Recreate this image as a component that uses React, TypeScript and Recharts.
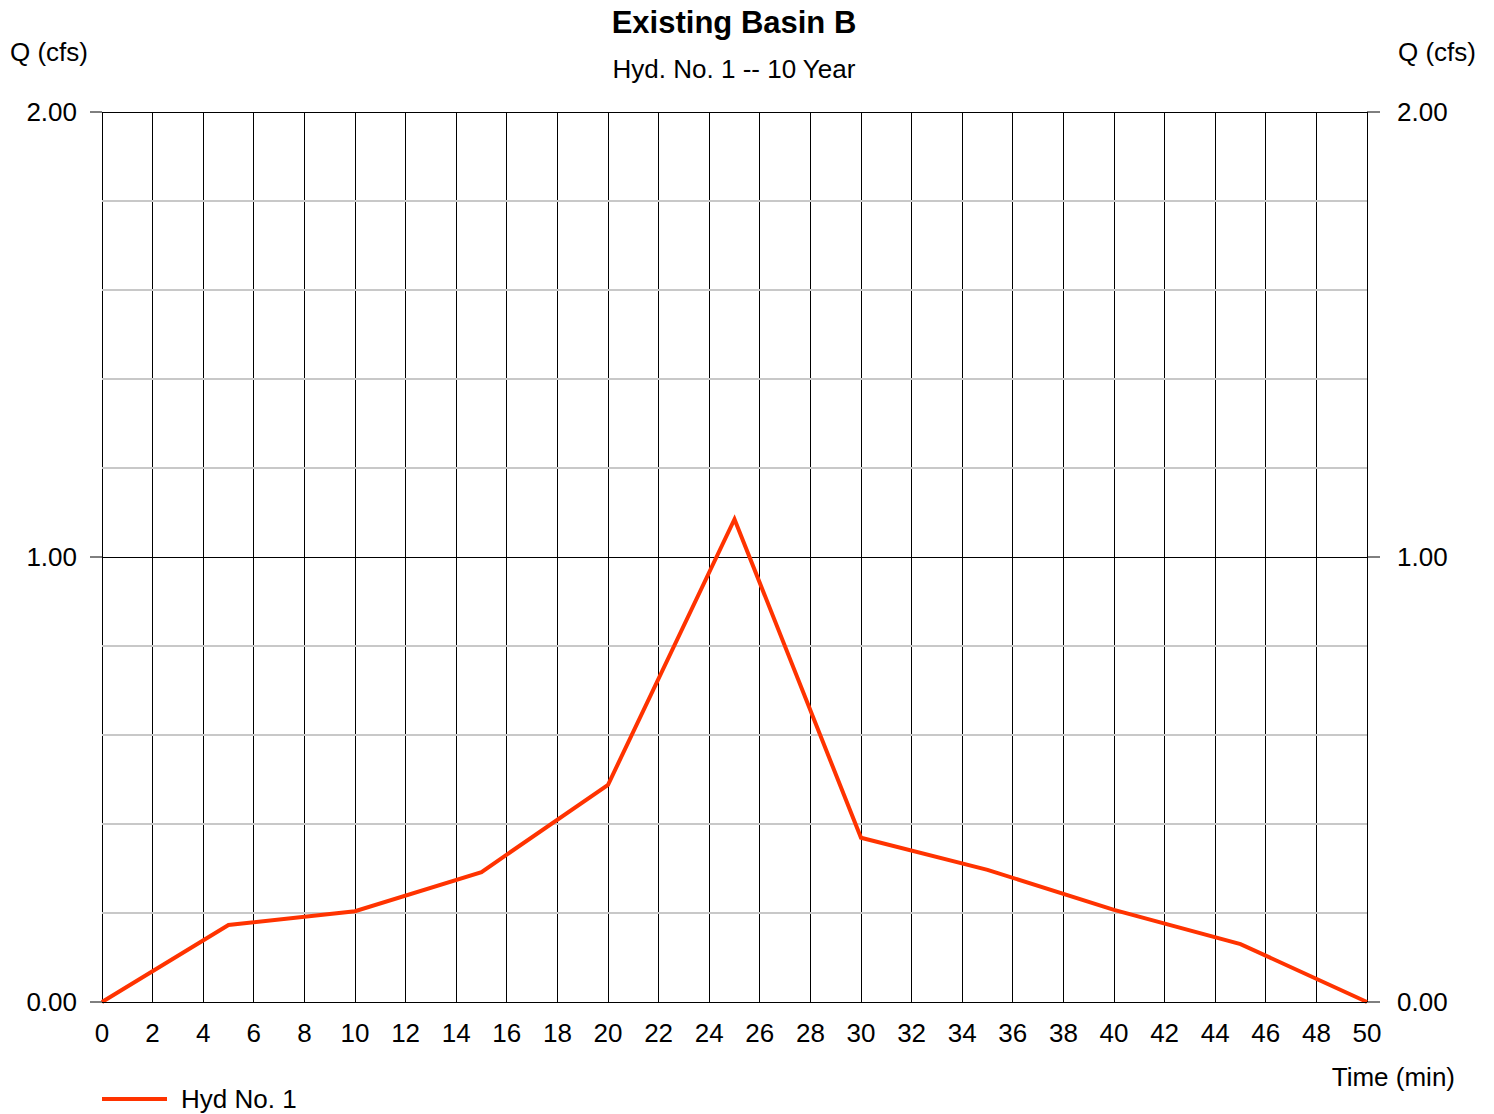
import { LineChart, Line, XAxis, YAxis, CartesianGrid, ReferenceLine } from 'recharts';

const times = [0, 5, 10, 15, 20, 25, 30, 35, 40, 45, 50];
const flows = [0, 0.173, 0.204, 0.292, 0.488, 1.085, 0.369, 0.297, 0.207, 0.13, 0];
const xTicks = [0, 2, 4, 6, 8, 10, 12, 14, 16, 18, 20, 22, 24, 26, 28, 30, 32, 34, 36, 38, 40, 42, 44, 46, 48, 50];
const yTicks = [0, 1, 2];
const minorLines = [0.2, 0.4, 0.6, 0.8, 1.2, 1.4, 1.6, 1.8];
const majorLines = [1, 2];

const data = times.map((t, i) => ({ time: t, q: flows[i] }));

const FONT = '"Liberation Sans", Arial, sans-serif';
const LINE_COLOR = '#ff3300';

export default function App() {
  const tickStyle = { fontSize: 26, fill: '#000', fontFamily: FONT };

  return (
    <div style={{ position: 'absolute', left: 0, top: 0, width: 1494, height: 1114, background: '#fff' }}>
      <LineChart
        width={1494}
        height={1114}
        data={data}
        margin={{ top: 112, right: 47, left: 22, bottom: 72 }}
      >
        {minorLines.map((v) => (
          <ReferenceLine key={v} y={v} yAxisId="left" stroke="#c8c8c8" strokeWidth={2} />
        ))}
        <CartesianGrid
          horizontal={false}
          vertical
          stroke="#000"
          strokeWidth={1}
          shapeRendering="crispEdges"
        />
        {majorLines.map((v) => (
          <ReferenceLine
            key={v}
            y={v}
            yAxisId="left"
            stroke="#000"
            strokeWidth={1}
            shapeRendering="crispEdges"
          />
        ))}
        <XAxis
          dataKey="time"
          type="number"
          domain={[0, 50]}
          ticks={xTicks}
          interval={0}
          height={40}
          tickLine={false}
          tickSize={0}
          tickMargin={22}
          axisLine={{ stroke: '#000', shapeRendering: 'crispEdges' }}
          tick={tickStyle}
        />
        <YAxis
          yAxisId="left"
          orientation="left"
          domain={[0, 2]}
          ticks={yTicks}
          width={80}
          tickSize={12}
          tickMargin={13}
          tickFormatter={(v: number) => v.toFixed(2)}
          axisLine={false}
          tickLine={{ stroke: '#000' }}
          tick={tickStyle}
        />
        <YAxis
          yAxisId="right"
          orientation="right"
          domain={[0, 2]}
          ticks={yTicks}
          width={80}
          tickSize={13}
          tickMargin={17}
          tickFormatter={(v: number) => v.toFixed(2)}
          axisLine={false}
          tickLine={{ stroke: '#000' }}
          tick={tickStyle}
        />
        <Line
          yAxisId="right"
          type="linear"
          dataKey="q"
          stroke="none"
          dot={false}
          legendType="none"
          isAnimationActive={false}
        />
        <Line
          yAxisId="left"
          type="linear"
          dataKey="q"
          stroke={LINE_COLOR}
          strokeWidth={4}
          dot={false}
          isAnimationActive={false}
        />
      </LineChart>
      <svg
        width={1494}
        height={1114}
        style={{ position: 'absolute', left: 0, top: 0, pointerEvents: 'none' }}
        fontFamily={FONT}
      >
        <text x={734} y={33} textAnchor="middle" fontSize={31} fontWeight="bold">
          Existing Basin B
        </text>
        <text x={734} y={78} textAnchor="middle" fontSize={26}>
          Hyd. No. 1 -- 10 Year
        </text>
        <text x={10} y={61} fontSize={26}>
          Q (cfs)
        </text>
        <text x={1476} y={61} fontSize={26} textAnchor="end">
          Q (cfs)
        </text>
        <text x={1455} y={1086} fontSize={26} textAnchor="end">
          Time (min)
        </text>
        <line x1={102} y1={1099} x2={167} y2={1099} stroke={LINE_COLOR} strokeWidth={4} />
        <text x={181} y={1108} fontSize={26}>
          Hyd No. 1
        </text>
      </svg>
    </div>
  );
}
